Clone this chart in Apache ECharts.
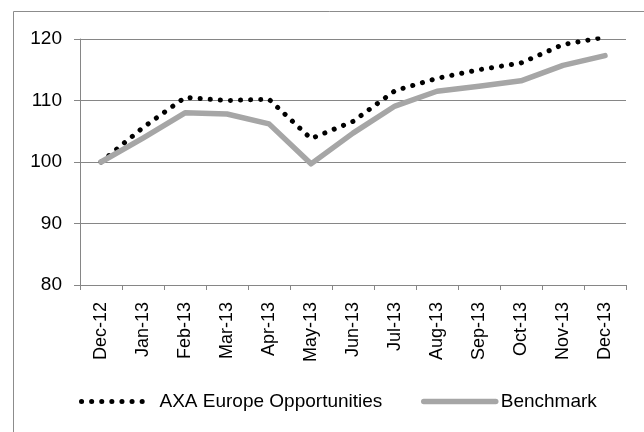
<!DOCTYPE html>
<html>
<head>
<meta charset="utf-8">
<script src="https://cdn.jsdelivr.net/npm/echarts@6/dist/echarts.min.js"></script>
<style>
  html, body { margin: 0; padding: 0; background: #fff; }
  #main { width: 644px; height: 432px; }
</style>
</head>
<body>
<div id="main"></div>
<script>
var months = ['Dec-12', 'Jan-13', 'Feb-13', 'Mar-13', 'Apr-13', 'May-13', 'Jun-13',
              'Jul-13', 'Aug-13', 'Sep-13', 'Oct-13', 'Nov-13', 'Dec-13'];
var axaValues = [100, 105.6, 110.5, 110.0, 110.2, 103.8, 106.6, 111.6, 113.6, 115.0, 116.1, 119.1, 120.3];
var benchmarkValues = [100, 103.9, 108.0, 107.8, 106.2, 99.7, 104.7, 109.1, 111.5, 112.3, 113.2, 115.7, 117.3];
var seriesNames = ['AXA Europe Opportunities', 'Benchmark'];

var FONT = '"Liberation Sans", Arial, sans-serif';
var gridColor = '#868686';

var myChart = echarts.init(document.getElementById('main'), null, { renderer: 'canvas' });

// legend: line only, no marker circle
var legendBase = {
    top: 392,
    padding: 0,
    itemHeight: 20,
    lineStyle: { width: 'inherit' },
    itemStyle: { opacity: 0, color: 'rgba(0,0,0,0)', borderWidth: 0 }
};

var option = {
    backgroundColor: '#fff',
    animation: false,
    textStyle: { fontFamily: FONT },
    // chart border
    graphic: [{
        type: 'rect',
        left: 11,
        top: 9,
        shape: { width: 640, height: 430 },
        style: { fill: 'none', stroke: '#8c8c8c', lineWidth: 1 },
        silent: true
    }],
    grid: {
        left: 80,
        right: 18,
        top: 39,
        bottom: 147,
        containLabel: false
    },
    legend: [Object.assign({}, legendBase, {
        data: [seriesNames[0]],
        left: 79,
        itemWidth: 63,
        textStyle: { fontFamily: FONT, fontSize: 19, color: '#000', padding: [0, 0, 0, 10] }
    }), Object.assign({}, legendBase, {
        data: [seriesNames[1]],
        left: 421,
        itemWidth: 72,
        textStyle: { fontFamily: FONT, fontSize: 19, color: '#000' }
    })],
    xAxis: {
        type: 'category',
        data: months,
        boundaryGap: true,
        axisLine: { lineStyle: { color: gridColor, width: 1 } },
        axisTick: { show: true, alignWithLabel: false, length: 5, lineStyle: { color: gridColor } },
        axisLabel: {
            rotate: 90,
            interval: 0,
            margin: 17,
            fontFamily: FONT,
            fontSize: 18,
            color: '#000'
        },
        splitLine: { show: false }
    },
    yAxis: {
        type: 'value',
        min: 80,
        max: 120,
        interval: 10,
        axisLine: { show: true, lineStyle: { color: gridColor, width: 1 } },
        axisTick: { show: true, length: 6, lineStyle: { color: gridColor } },
        axisLabel: { margin: 18, fontFamily: FONT, fontSize: 19, color: '#000' },
        splitLine: { show: true, lineStyle: { color: gridColor, width: 1 } }
    },
    series: [{
        name: seriesNames[0],
        type: 'line',
        data: axaValues,
        symbol: 'none',
        lineStyle: {
            color: '#000',
            width: 5,
            type: [0.1, 10],
            cap: 'round',
            join: 'round'
        },
        itemStyle: { color: '#000' }
    }, {
        name: seriesNames[1],
        type: 'line',
        data: benchmarkValues,
        symbol: 'none',
        lineStyle: {
            color: '#a6a6a6',
            width: 5.5,
            cap: 'round',
            join: 'round'
        },
        itemStyle: { color: '#a6a6a6' }
    }]
};

myChart.setOption(option);
</script>
</body>
</html>
